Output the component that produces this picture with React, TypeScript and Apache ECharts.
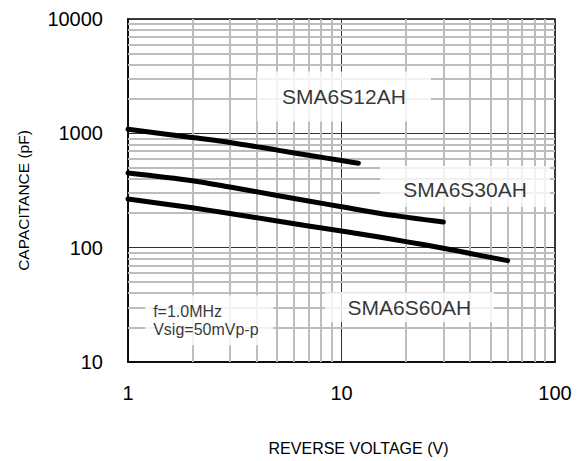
import React, { useEffect, useRef } from "react";
import * as echarts from "echarts";

// ---- data ----
const voltage12 = [1, 2, 3, 5, 7, 10, 12];
const cap12 = [1085, 918, 833, 713, 644, 578, 548];

const voltage30 = [1, 2, 3, 5, 7, 10, 15, 20, 25, 30];
const cap30 = [449, 385, 339, 286, 256, 228, 200, 185, 175, 168];

const voltage60 = [1, 2, 3, 5, 7, 10, 15, 20, 30, 40, 60];
const cap60 = [267, 223, 199, 171, 155, 140, 124, 113, 99, 89, 77];

const xMinorTicks = [2, 3, 4, 5, 6, 7, 8, 9, 20, 30, 40, 50, 60, 70, 80, 90];
const yMinorTicks = [
  20, 30, 40, 50, 60, 70, 80, 90,
  200, 300, 400, 500, 600, 700, 800, 900,
  2000, 3000, 4000, 5000, 6000, 7000, 8000, 9000,
];

const annotationTexts = ["SMA6S12AH", "SMA6S30AH", "SMA6S60AH", "f=1.0MHz\nVsig=50mVp-p"];
const annotationVoltage = [10.27, 37.9, 20.8, 2.4];
const annotationCap = [2097, 343, 30.1, 23.2];

const xAxisName = "REVERSE VOLTAGE (V)";
const yAxisName = "CAPACITANCE (pF)";

// ---- styles ----
const FONT = "'Liberation Sans', Arial, Helvetica, sans-serif";
const boxSizes = [
  [174, 50],
  [170, 41],
  [169, 30],
  [128, 50],
];

const zip = (xs: number[], ys: number[]) => xs.map((x, i) => [x, ys[i]]);

export default function App() {
  const ref = useRef<HTMLDivElement>(null);

  useEffect(() => {
    if (!ref.current) return;
    const chart = echarts.init(ref.current, undefined, { renderer: "svg" });

    const curve = (name: string, xs: number[], ys: number[]) => ({
      name,
      type: "line",
      data: zip(xs, ys),
      symbol: "none",
      smooth: 0.3,
      silent: true,
      z: 10,
      lineStyle: { color: "#000", width: 5, cap: "round", join: "round" },
    });

    const plain = (v: number) => String(Math.round(v));

    const option: any = {
      animation: false,
      backgroundColor: "#fff",
      grid: {
        left: 128,
        top: 19,
        width: 427,
        height: 345,
        show: true,
        borderColor: "#000",
        borderWidth: 1.5,
        backgroundColor: "transparent",
      },
      xAxis: {
        type: "log",
        logBase: 10,
        min: 1,
        max: 100,
        name: xAxisName,
        nameLocation: "middle",
        nameGap: 78,
        nameTextStyle: {
          fontFamily: FONT,
          fontSize: 16,
          color: "#000",
          padding: [0, 0, 0, 34],
        },
        axisLine: { show: true, lineStyle: { color: "#000", width: 1.5 } },
        axisTick: { show: false },
        axisLabel: { fontFamily: FONT, fontSize: 20, color: "#000", margin: 21, formatter: plain },
        splitLine: { show: true, lineStyle: { color: "#333", width: 1 } },
        minorTick: { show: false },
      },
      yAxis: {
        type: "log",
        logBase: 10,
        min: 10,
        max: 10000,
        name: yAxisName,
        nameLocation: "middle",
        nameGap: 97,
        nameTextStyle: {
          fontFamily: FONT,
          fontSize: 15.5,
          color: "#000",
          padding: [0, 20, 0, 0],
        },
        axisLine: { show: true, lineStyle: { color: "#000", width: 1.5 } },
        axisTick: { show: false },
        axisLabel: { fontFamily: FONT, fontSize: 20, color: "#000", margin: 25, formatter: plain },
        splitLine: { show: true, lineStyle: { color: "#333", width: 1 } },
      },
      series: [
        {
          name: "grid",
          type: "line",
          data: [[1, 10]],
          symbol: "none",
          silent: true,
          z: 1,
          lineStyle: { width: 0 },
          markLine: {
            silent: true,
            symbol: "none",
            animation: false,
            label: { show: false },
            lineStyle: { color: "#bdbdbd", width: 2, type: "solid" },
            emphasis: { disabled: true },
            data: [
              ...xMinorTicks.map((v) => ({ xAxis: v })),
              ...yMinorTicks.map((v) => ({ yAxis: v })),
            ],
          },
        },
        {
          name: "annotations",
          type: "scatter",
          symbol: "rect",
          silent: true,
          z: 5,
          itemStyle: { color: "#fff" },
          data: annotationTexts.map((t, i) => {
            const isNote = i === 3;
            return {
              name: t,
              value: [annotationVoltage[i], annotationCap[i]],
              symbolSize: boxSizes[i],
              label: isNote
                ? {
                    show: true,
                    position: "insideLeft",
                    distance: 8,
                    formatter: "{b}",
                    color: "#000",
                    fontFamily: FONT,
                    fontSize: 16,
                    lineHeight: 18,
                    align: "left",
                  }
                : {
                    show: true,
                    position: "inside",
                    formatter: "{b}",
                    color: "#000",
                    fontFamily: FONT,
                    fontSize: 21,
                    offset: i === 1 ? [0, 3] : [0, 0],
                  },
            };
          }),
        },
        curve("SMA6S12AH", voltage12, cap12),
        curve("SMA6S30AH", voltage30, cap30),
        curve("SMA6S60AH", voltage60, cap60),
      ],
    };

    chart.setOption(option);
    return () => chart.dispose();
  }, []);

  return (
    <div
      ref={ref}
      style={{ position: "fixed", left: 0, top: 0, width: 582, height: 461 }}
    />
  );
}
